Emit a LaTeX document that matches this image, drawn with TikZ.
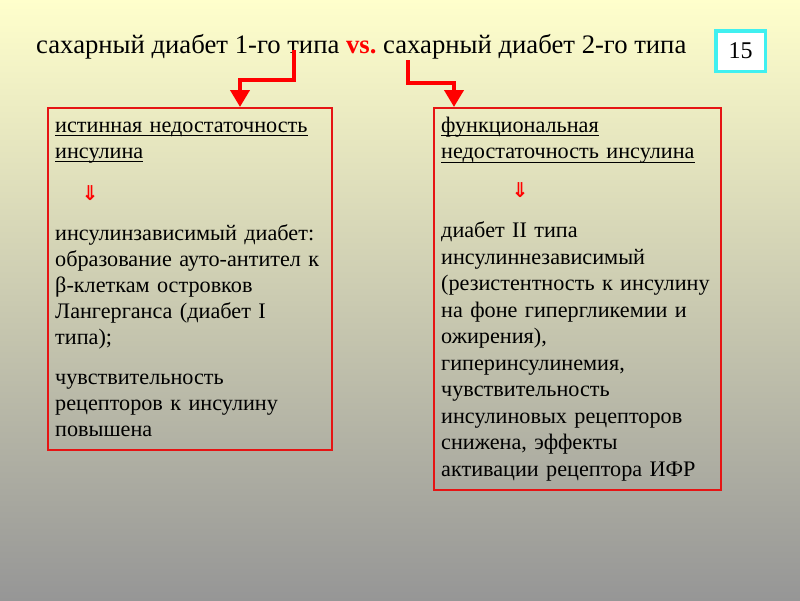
\documentclass[tikz,border=0pt]{standalone}
\usepackage{fontspec}
\setmainfont{Liberation Serif}
\newfontfamily\arrowfont{DejaVu Sans}
\usetikzlibrary{arrows.meta}
\definecolor{bgtop}{RGB}{255,255,204}
\definecolor{bgbottom}{RGB}{150,150,150}
\definecolor{framered}{RGB}{230,20,20}
\definecolor{numcyan}{RGB}{64,240,240}
\newcommand{\undl}[1]{\leavevmode\setbox0\hbox{#1}\rlap{\vrule height -3pt depth 4pt width \wd0}\box0}
\newcommand{\dnsign}{\resizebox*{17pt}{15pt}{\arrowfont\bfseries ⇓}}

\begin{document}
\begin{tikzpicture}[x=1pt, y=-1pt,
    redframe/.style={draw=framered, line width=1.5pt, anchor=north west, inner sep=0pt},
    boxtext/.style={anchor=base west, inner sep=0pt, text width=274pt, align=left},
    dnarrow/.style={text=red, inner sep=0pt},
    redarrow/.style={draw=red, line width=4pt, -{Triangle[width=19pt,length=17pt]}},
    numbox/.style={draw=numcyan, line width=3.5pt, fill=white, minimum width=49.5pt, minimum height=40.5pt, font=\fontsize{24}{28}\selectfont}]
    \useasboundingbox (0,0) rectangle (800,600);
    \shade[top color=bgtop, bottom color=bgbottom] (0,0) rectangle (800,600);

    \node[anchor=base west, inner sep=0pt, font=\fontsize{26.7}{32}\selectfont] (title) at (36,53)
        {сахарный диабет 1-го типа {\color{red}\bfseries vs.}\ сахарный диабет 2-го типа};
    \node[numbox] (num) at (740.5,51) {15};

    \node[redframe, minimum width=284pt, minimum height=342pt] (leftbox) at (47,107) {};
    \node[redframe, minimum width=287pt, minimum height=382pt] (rightbox) at (433,107) {};

    \node[boxtext, font=\fontsize{22.2}{26}\selectfont] (lefttext) at (55,132)
        {\undl{истинная недостаточность}\\ \undl{инсулина}\\[56.5pt]
         инсулинзависимый диабет:\\ образование ауто-антител к\\ β-клеткам островков\\
         Лангерганса (диабет I\\ типа);\\[14pt]
         чувствительность\\ рецепторов к инсулину\\ повышена};
    \node[boxtext, font=\fontsize{22.2}{26.5}\selectfont] (righttext) at (441,132)
        {\undl{функциональная}\\ \undl{недостаточность инсулина}\\[52.5pt]
         диабет II типа\\ инсулиннезависимый\\ (резистентность к инсулину\\
         на фоне гипергликемии и\\ ожирения),\\ гиперинсулинемия,\\ чувствительность\\
         инсулиновых рецепторов\\ снижена, эффекты\\ активации рецептора ИФР};
    \node[dnarrow] (leftdown) at (90,193) {\dnsign};
    \node[dnarrow] (rightdown) at (520,190) {\dnsign};

    \coordinate (lstart) at (294,50);
    \coordinate (lbend) at (240,80);
    \coordinate (rstart) at (408,60);
    \coordinate (rbend) at (454,83);
    \draw[redarrow] (lstart) |- (lbend) -- (lbend |- leftbox.north);
    \draw[redarrow] (rstart) |- (rbend) -- (rbend |- rightbox.north);
\end{tikzpicture}
\end{document}
